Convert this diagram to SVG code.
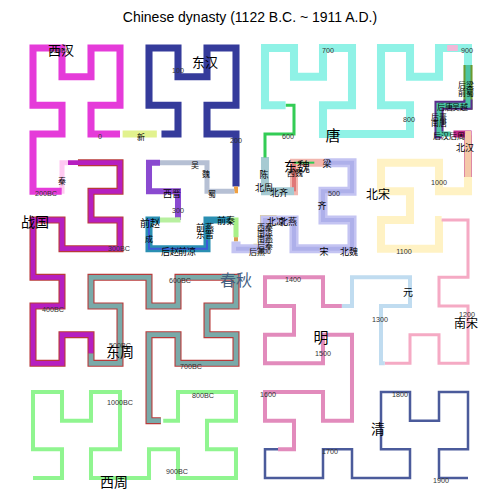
<svg xmlns="http://www.w3.org/2000/svg" width="500" height="500" viewBox="0 0 500 500">
<style>
use{fill:none;stroke-linecap:butt;stroke-linejoin:miter}
.a{font-family:"Liberation Sans",Arial,sans-serif;font-size:7.2px;fill:#333;text-anchor:middle;dominant-baseline:central}
.z{font-family:"Noto Sans CJK SC","Noto Sans",sans-serif;fill:#000;text-anchor:middle;dominant-baseline:central}
.t{font-family:"Liberation Sans",Arial,sans-serif;font-size:14px;fill:#000;text-anchor:middle}
</style>
<defs>
<path id="hc" d="M0 0H1V1H0V3H1V2H2V3H3V1H2V0H4V1H5V0H7V1H6V2H7V3H5V2H4V5H5V4H7V5H6V6H7V7H5V6H4V7H2V6H3V4H2V5H1V4H0V6H1V7H0V9H1V8H3V9H2V10H3V11H1V10H0V12H1V13H0V15H1V14H2V15H3V13H2V12H5V13H4V15H5V14H6V15H7V13H6V12H7V10H6V11H4V10H5V9H4V8H6V9H7V8H8V9H9V8H11V9H10V10H11V11H9V10H8V12H9V13H8V15H9V14H10V15H11V13H10V12H13V13H12V15H13V14H14V15H15V13H14V12H15V10H14V11H12V10H13V9H12V8H14V9H15V7H14V6H15V4H14V5H13V4H12V6H13V7H11V6H10V7H8V6H9V5H8V4H10V5H11V2H10V3H8V2H9V1H8V0H10V1H11V0H13V1H12V3H13V2H14V3H15V1H14V0H15"/>
</defs>
<rect width="500" height="500" fill="#fff"/>
<text class="t" x="250" y="22">Chinese dynasty (1122 B.C. ~ 1911 A.D.)</text>
<g id="connectors" transform="matrix(29 0 0 -28.667 33 478)">
<use href="#hc" style="stroke:#90f590;stroke-width:0.139;stroke-dasharray:29.51 999;stroke-dashoffset:0"/>
<use href="#hc" style="stroke:#b83a3a;stroke-width:0.243;stroke-dasharray:45.86 999;stroke-dashoffset:-29.59"/>
<use href="#hc" style="stroke:#79aaa9;stroke-width:0.167;stroke-dasharray:24.76 999;stroke-dashoffset:-29.59"/>
<use href="#hc" style="stroke:#b61fc0;stroke-width:0.167;stroke-dasharray:21.45 999;stroke-dashoffset:-54.35"/>
<use href="#hc" style="stroke:#ffcaf2;stroke-width:0.174;stroke-dasharray:1.21 999;stroke-dashoffset:-75.8"/>
<use href="#hc" style="stroke:#e53bd9;stroke-width:0.243;stroke-dasharray:17.99 999;stroke-dashoffset:-77.01"/>
<use href="#hc" style="stroke:#e2f28e;stroke-width:0.243;stroke-dasharray:1.18 999;stroke-dashoffset:-95.09"/>
<use href="#hc" style="stroke:#353b9b;stroke-width:0.243;stroke-dasharray:16.4 999;stroke-dashoffset:-96.43"/>
<use href="#hc" style="stroke:#f0a040;stroke-width:0.139;stroke-dasharray:0.22 999;stroke-dashoffset:-112.83"/>
<use href="#hc" style="stroke:#b6c0d4;stroke-width:0.174;stroke-dasharray:3.57 999;stroke-dashoffset:-113.05"/>
<use href="#hc" style="stroke:#8a4ad0;stroke-width:0.208;stroke-dasharray:3.38 999;stroke-dashoffset:-116.62"/>
<use href="#hc" style="stroke:#b8f0a0;stroke-width:0.174;stroke-dasharray:0.72 999;stroke-dashoffset:-119.9"/>
<use href="#hc" style="stroke:#2a8fb2;stroke-width:0.243;stroke-dasharray:5.18 999;stroke-dashoffset:-120.62"/>
<use href="#hc" style="stroke:#3c5ad8;stroke-width:0.069;stroke-dasharray:3.4 999;stroke-dashoffset:-120.9"/>
<use href="#hc" style="stroke:#a8f088;stroke-width:0.174;stroke-dasharray:0.8 999;stroke-dashoffset:-125.8"/>
<use href="#hc" style="stroke:#d8a050;stroke-width:0.139;stroke-dasharray:0.15 999;stroke-dashoffset:-126.6"/>
<use href="#hc" style="stroke:#e8d488;stroke-width:0.347;stroke-dasharray:1.8 999;stroke-dashoffset:-127.6"/>
<use href="#hc" style="stroke:#c4c4f2;stroke-width:0.3125;stroke-dasharray:12.2 999;stroke-dashoffset:-126.75"/>
<use href="#hc" style="stroke:#aeb0ea;stroke-width:0.139;stroke-dasharray:11.95 999;stroke-dashoffset:-127"/>
<use href="#hc" style="stroke:#f2b6ae;stroke-width:0.278;stroke-dasharray:2.05 999;stroke-dashoffset:-138.95"/>
<use href="#hc" style="stroke:#e07878;stroke-width:0.139;stroke-dasharray:1 999;stroke-dashoffset:-140"/>
<use href="#hc" style="stroke:#30cc50;stroke-width:0.069;stroke-dasharray:0.7 999;stroke-dashoffset:-139.3"/>
<use href="#hc" style="stroke:#a6cad2;stroke-width:0.278;stroke-dasharray:2.2 999;stroke-dashoffset:-141"/>
<use href="#hc" style="stroke:#33cc55;stroke-width:0.104;stroke-dasharray:3.11 999;stroke-dashoffset:-143.18"/>
<use href="#hc" style="stroke:#8ff2e6;stroke-width:0.278;stroke-dasharray:24.3 999;stroke-dashoffset:-146.29"/>
<use href="#hc" style="stroke:#f2b8d8;stroke-width:0.208;stroke-dasharray:0.37 999;stroke-dashoffset:-169.28"/>
<use href="#hc" style="stroke:#6b9a30;stroke-width:0.3125;stroke-dasharray:1.41 999;stroke-dashoffset:-170.59"/>
<use href="#hc" style="stroke:#5b2d8c;stroke-width:0.3125;stroke-dasharray:2.3 999;stroke-dashoffset:-171.8"/>
<use href="#hc" style="stroke:#4cc4a4;stroke-width:0.174;stroke-dasharray:3.81 999;stroke-dashoffset:-170.59"/>
<use href="#hc" style="stroke:#fff2c4;stroke-width:0.278;stroke-dasharray:14.05 999;stroke-dashoffset:-175.04"/>
<use href="#hc" style="stroke:#c02888;stroke-width:0.243;stroke-dasharray:2 999;stroke-dashoffset:-174.5"/>
<use href="#hc" style="stroke:#f4c8a8;stroke-width:0.208;stroke-dasharray:1.6 999;stroke-dashoffset:-174.9"/>
<use href="#hc" style="stroke:#f5aac4;stroke-width:0.104;stroke-dasharray:12.78 999;stroke-dashoffset:-189.09"/>
<use href="#hc" style="stroke:#c0dcf0;stroke-width:0.139;stroke-dasharray:7.48 999;stroke-dashoffset:-201.87"/>
<use href="#hc" style="stroke:#e28bbc;stroke-width:0.139;stroke-dasharray:23.2 999;stroke-dashoffset:-209.35"/>
<use href="#hc" style="stroke:#4b5b9b;stroke-width:0.087;stroke-dasharray:22.45 999;stroke-dashoffset:-232.55"/>
</g>
<g id="axis">
<text class="a" x="120" y="402">1000BC</text>
<text class="a" x="177" y="471">900BC</text>
<text class="a" x="203" y="395">800BC</text>
<text class="a" x="191" y="366">700BC</text>
<text class="a" x="180" y="280">600BC</text>
<text class="a" x="120" y="345">500BC</text>
<text class="a" x="53" y="309">400BC</text>
<text class="a" x="119" y="248">300BC</text>
<text class="a" x="46" y="193">200BC</text>
<text class="a" x="60" y="50">100BC</text>
<text class="a" x="100" y="136">0</text>
<text class="a" x="178" y="70">100</text>
<text class="a" x="236" y="140">200</text>
<text class="a" x="178" y="210">300</text>
<text class="a" x="265" y="251">400</text>
<text class="a" x="334" y="193">500</text>
<text class="a" x="288" y="136">600</text>
<text class="a" x="328" y="50">700</text>
<text class="a" x="409" y="119">800</text>
<text class="a" x="467" y="50">900</text>
<text class="a" x="439" y="182">1000</text>
<text class="a" x="404" y="251">1100</text>
<text class="a" x="467" y="314">1200</text>
<text class="a" x="380" y="319">1300</text>
<text class="a" x="293" y="279">1400</text>
<text class="a" x="323" y="353">1500</text>
<text class="a" x="268" y="394">1600</text>
<text class="a" x="330" y="451">1700</text>
<text class="a" x="400" y="394">1800</text>
<text class="a" x="441" y="480">1900</text>
</g>
<g id="labels">
<text class="z" x="114" y="481" font-size="14">西周</text>
<text class="z" x="120" y="351" font-size="14">东周</text>
<text class="z" x="236" y="279" font-size="16" fill="#44607f" style="fill:#44607f">春秋</text>
<text class="z" x="35" y="221" font-size="14">战国</text>
<text class="z" x="62" y="180" font-size="8">秦</text>
<text class="z" x="61" y="49" font-size="13">西汉</text>
<text class="z" x="141" y="136" font-size="8">新</text>
<text class="z" x="205" y="61" font-size="13">东汉</text>
<text class="z" x="206" y="173" font-size="8">魏</text>
<text class="z" x="195" y="164" font-size="8">吴</text>
<text class="z" x="212" y="193" font-size="8">蜀</text>
<text class="z" x="172" y="193" font-size="9">西晋</text>
<text class="z" x="150" y="222" font-size="10">前赵</text>
<text class="z" x="149" y="238" font-size="8">成</text>
<text class="z" x="170" y="251" font-size="9">后赵</text>
<text class="z" x="187" y="251" font-size="9">前凉</text>
<text class="z" x="205" y="227" font-size="9">前燕</text>
<text class="z" x="205" y="234" font-size="9">东晋</text>
<text class="z" x="226" y="220" font-size="9">前秦</text>
<text class="z" x="257" y="251" font-size="8">后燕</text>
<text class="z" x="265" y="245" font-size="8">后秦</text>
<text class="z" x="265" y="238" font-size="8">南燕</text>
<text class="z" x="265" y="232" font-size="8">南凉</text>
<text class="z" x="265" y="226" font-size="8">西秦</text>
<text class="z" x="276" y="221" font-size="9">北凉</text>
<text class="z" x="288" y="221" font-size="9">北燕</text>
<text class="z" x="324" y="251" font-size="9">宋</text>
<text class="z" x="349" y="251" font-size="9">北魏</text>
<text class="z" x="322" y="205" font-size="9">齐</text>
<text class="z" x="327" y="163" font-size="9">梁</text>
<text class="z" x="297" y="165" font-size="13">东魏</text>
<text class="z" x="295" y="172" font-size="8">西魏</text>
<text class="z" x="264" y="174" font-size="9">陈</text>
<text class="z" x="264" y="187" font-size="9">北周</text>
<text class="z" x="279" y="192" font-size="9">北齐</text>
<text class="z" x="333" y="134" font-size="15">唐</text>
<text class="z" x="466" y="84" font-size="8">后梁</text>
<text class="z" x="466" y="92" font-size="8">前蜀</text>
<text class="z" x="445" y="106" font-size="8">后唐</text>
<text class="z" x="460" y="106" font-size="8">吴越</text>
<text class="z" x="439" y="116" font-size="8">后晋</text>
<text class="z" x="439" y="122" font-size="8">南唐</text>
<text class="z" x="441" y="135" font-size="8">后汉</text>
<text class="z" x="457" y="135" font-size="8">后周</text>
<text class="z" x="465" y="147" font-size="9">北汉</text>
<text class="z" x="378" y="193" font-size="12">北宋</text>
<text class="z" x="466" y="322" font-size="12">南宋</text>
<text class="z" x="408" y="291" font-size="10">元</text>
<text class="z" x="321" y="336" font-size="15">明</text>
<text class="z" x="378" y="428" font-size="14">清</text>
</g>
</svg>
